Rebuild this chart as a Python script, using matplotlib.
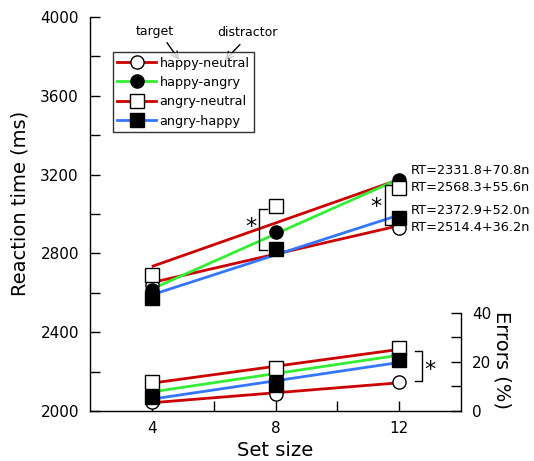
import numpy as np
import matplotlib
matplotlib.use("Agg")
import matplotlib.pyplot as plt
from matplotlib.lines import Line2D

plt.rcParams['font.family'] = ['DejaVu Sans']

# set sizes
set_size = np.array([4, 8, 12])

# reaction times (ms)
rt_happy_neutral = [2640, 2820, 2929]
rt_happy_angry = [2614, 2909, 3173]
rt_angry_neutral = [2690, 3041, 3132]
rt_angry_happy = [2575, 2822, 2980]

# error rates (%)
err_happy_neutral = [3.6, 6.9, 11.7]
err_happy_angry = [8.5, 13.7, 23.4]
err_angry_neutral = [11.7, 17.4, 25.4]
err_angry_happy = [5.7, 10.5, 20.6]

labels = ['happy-neutral', 'happy-angry', 'angry-neutral', 'angry-happy']
equations = ['RT=2331.8+70.8n', 'RT=2568.3+55.6n', 'RT=2372.9+52.0n', 'RT=2514.4+36.2n']

red = '#cc0000'
green = '#33ee33'
blue = '#3377ff'

styles = [
    dict(color=red, marker='o', mfc='white'),
    dict(color=green, marker='o', mfc='black'),
    dict(color=red, marker='s', mfc='white'),
    dict(color=blue, marker='s', mfc='black'),
]
rts = [rt_happy_neutral, rt_happy_angry, rt_angry_neutral, rt_angry_happy]
errs = [err_happy_neutral, err_happy_angry, err_angry_neutral, err_angry_happy]
draw_order = [0, 2, 1, 3]
MS = 9.5

fig = plt.figure(figsize=(5.34, 4.61), dpi=100)
ax = fig.add_axes([90 / 534, 1 - 411 / 461, 371 / 534, 394 / 461])
ax2 = ax.twinx()

ax.set_xlim(2, 14)
ax.set_ylim(2000, 4000)
ax2.set_ylim(0, 160)

# regression lines
xfit = np.array([4, 12])
for i in draw_order:
    st = styles[i]
    for a, vals in [(ax, rts[i]), (ax2, errs[i])]:
        k, b = np.polyfit(set_size, vals, 1)
        a.plot(xfit, k * xfit + b, color=st['color'], lw=2, zorder=2, solid_capstyle='butt')
# data points
for i in draw_order:
    st = styles[i]
    for a, vals in [(ax, rts[i]), (ax2, errs[i])]:
        a.plot(set_size, vals, ls='none', marker=st['marker'], ms=MS,
               mfc=st['mfc'], mec='black', mew=1, zorder=5 + i)

# spines
ax.spines['top'].set_visible(False)
ax2.spines['top'].set_visible(False)
ax.spines['right'].set_visible(False)
ax2.spines['left'].set_visible(False)
ax2.spines['bottom'].set_visible(False)
ax2.spines['right'].set_bounds(0, 40)
for sp in list(ax.spines.values()) + list(ax2.spines.values()):
    sp.set_linewidth(1)

ax.set_xticks([4, 8, 12])
ax.set_xticks([6, 10], minor=True)
ax.set_yticks(np.arange(2000, 4001, 400))
ax.set_yticks(np.arange(2200, 4000, 400), minor=True)
ax2.set_yticks([0, 20, 40])
ax2.set_yticks([10, 30], minor=True)
for a in (ax, ax2):
    a.tick_params(which='both', direction='in', length=7, width=1, labelsize=11, pad=8)
ax.tick_params(axis='x', pad=7)

ax.set_xlabel('Set size', fontsize=14, labelpad=4)
ax.set_ylabel('Reaction time (ms)', fontsize=14)
ax.yaxis.set_label_coords(-0.162, 0.528)
ax2.set_ylabel('Errors (%)', fontsize=14, rotation=270)
ax2.yaxis.set_label_coords(1.135, 0.13)

# legend
handles = [Line2D([], [], color=st['color'], lw=2, marker=st['marker'], ms=MS,
                  mfc=st['mfc'], mec='black', mew=1) for st in styles]
leg = ax.legend(handles, labels, loc='upper left', bbox_to_anchor=(0.062, 0.911),
                fontsize=9.2, frameon=True, fancybox=False, edgecolor='black',
                handlelength=3.0, handletextpad=0.3, borderpad=0.35, labelspacing=0.5,
                borderaxespad=0)
leg.get_frame().set_linewidth(1)

# target / distractor annotations
ax.text(4.1, 3925, 'target', fontsize=9, ha='center', va='center')
ax.text(7.08, 3920, 'distractor', fontsize=9, ha='center', va='center')
ax.annotate('', xy=(4.88, 3782), xytext=(4.49, 3870),
            arrowprops=dict(arrowstyle='->,head_length=0.5,head_width=0.25', color='black',
                            lw=1, shrinkA=0, shrinkB=0))
ax.annotate('', xy=(6.37, 3782), xytext=(6.85, 3860),
            arrowprops=dict(arrowstyle='->,head_length=0.5,head_width=0.25', color='black',
                            lw=1, shrinkA=0, shrinkB=0))

# regression equations
for txt, y in zip(equations, [3223, 3137, 3020, 2929]):
    ax.text(12.38, y, txt, fontsize=9.3, ha='left', va='center')

# significance brackets
ax.plot([7.72, 7.47, 7.47, 7.72], [3025, 3025, 2817, 2817], color='black', lw=1, zorder=3)
ax.text(7.21, 2935, '*', fontsize=16, ha='center', va='center')
ax.plot([11.77, 11.54, 11.54, 11.77], [3147, 3147, 2944, 2944], color='black', lw=1, zorder=3)
ax.text(11.25, 3035, '*', fontsize=16, ha='center', va='center')
ax2.plot([12.51, 12.74, 12.74, 12.51], [24.2, 24.2, 12.1, 12.1], color='black', lw=1)
ax2.text(13.0, 16.5, '*', fontsize=16, ha='center', va='center')

fig.savefig('out.png', dpi=100)
